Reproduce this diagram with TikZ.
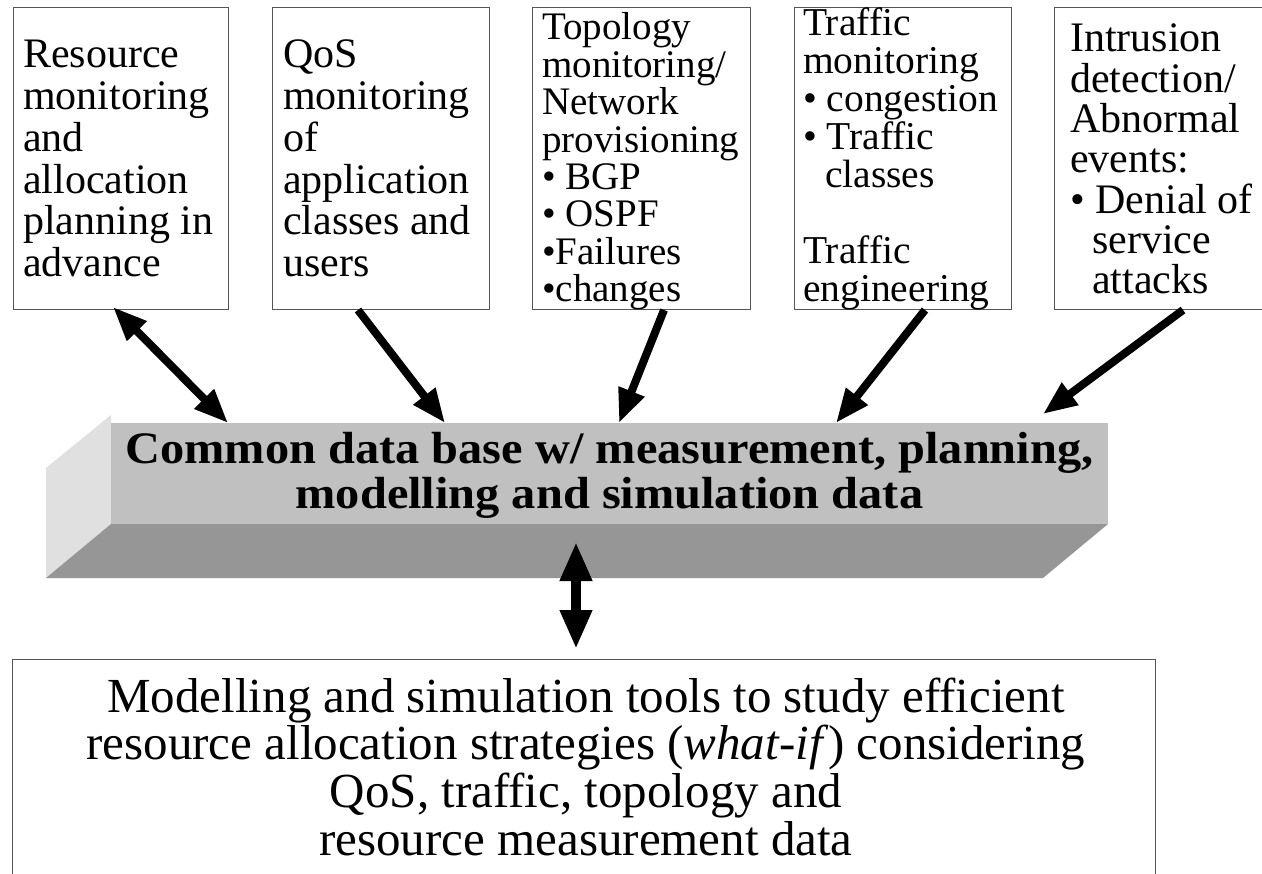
\documentclass[tikz,border=0pt]{standalone}
\usepackage{fontspec}
\setmainfont{Liberation Serif}
\usetikzlibrary{arrows.meta}
\lineskiplimit=-100pt
\definecolor{barfront}{HTML}{C0C0C0}
\definecolor{barbottom}{HTML}{969696}
\definecolor{barleft}{HTML}{E0E0E0}
\definecolor{boxline}{HTML}{555555}
\tikzset{
  topbox/.style={draw=boxline, line width=1.2pt, fill=none, anchor=north west, inner sep=0pt, minimum height=302pt},
  boxtext/.style={anchor=base west, inner sep=0pt},
  arr/.style={line width=8pt, -{Triangle[length=34pt,width=26pt]}},
  dblarr/.style={line width=8pt, {Triangle[length=34pt,width=26pt]}-{Triangle[length=34pt,width=26pt]}},
  vdblarr/.style={line width=10pt, {Triangle[length=39pt,width=30pt]}-{Triangle[length=39pt,width=30pt]}},
}
\begin{document}
\begin{tikzpicture}[x=1pt,y=-1pt]
\useasboundingbox (0,0) rectangle (1262,874);
\fill[white] (0,0) rectangle (1262,874);

% top boxes
\node[topbox, minimum width=215pt] (b1) at (13,7) {};
\node[topbox, minimum width=217pt] (b2) at (272,7) {};
\node[topbox, minimum width=218pt] (b3) at (532,7) {};
\node[topbox, minimum width=217pt] (b4) at (794,7) {};
\node[topbox, minimum width=225pt] (b5) at (1054,7) {};

\node[boxtext, font=\fontsize{42}{41.7}\selectfont] (t1) at (23,68)
  {\parbox[t]{210pt}{\raggedright Resource\\monitoring\\and\\allocation\\planning in\\advance}};
\node[boxtext, font=\fontsize{42}{41.7}\selectfont] (t2) at (283,68)
  {\parbox[t]{210pt}{\raggedright QoS\\monitoring\\of\\application\\classes and\\users}};
\node[boxtext, font=\fontsize{39}{37.4}\selectfont] (t3) at (542,40)
  {\parbox[t]{210pt}{\raggedright Topology\\monitoring/\\Network\\provisioning\\\textbullet\ BGP\\\textbullet\ OSPF\\\textbullet Failures\\\textbullet changes}};
\node[boxtext, font=\fontsize{39.5}{37.9}\selectfont] (t4) at (803,36)
  {\parbox[t]{210pt}{\raggedright Traffic\\monitoring\\\textbullet\ congestion\\\textbullet\ Traffic\\\hspace*{22pt}classes\\\mbox{}\\Traffic\\engineering}};
\node[boxtext, font=\fontsize{42}{40.3}\selectfont] (t5) at (1070,52)
  {\parbox[t]{210pt}{\raggedright Intrusion\\detection/\\Abnormal\\events:\\\textbullet\ Denial of\\\hspace*{22pt}service\\\hspace*{22pt}attacks}};

% 3D bar
\fill[barleft] (111,415) -- (46,468) -- (46,578) -- (111,524) -- cycle;
\fill[barbottom] (111,524) -- (1108,524) -- (1043,578) -- (46,578) -- cycle;
\node[fill=barfront, anchor=north west, inner sep=0pt, minimum width=997pt, minimum height=101pt] (bar) at (111,423) {};
\node[anchor=base, inner sep=0pt, font=\bfseries\fontsize{45}{45}\selectfont] (bartext) at (609.5,464)
  {\scalebox{1.075}[1]{\parbox[t]{1000pt}{\centering Common data base w/ measurement, planning,\\modelling and simulation data}}};

% bottom box
\node[draw=boxline, line width=1.2pt, anchor=north west, inner sep=0pt, minimum width=1143pt, minimum height=240pt] (bot) at (12,659) {};
\node[anchor=base, inner sep=0pt, font=\fontsize{49}{47.7}\selectfont] (bottext) at (586,712)
  {\parbox[t]{1200pt}{\centering Modelling and simulation tools to study efficient\\resource allocation strategies (\textit{what-if}) considering\\QoS, traffic, topology and\\resource measurement data}};

% connector end points
\coordinate (a1s) at (113,307);
\coordinate (a1e) at (228,423);
\coordinate (a2s) at (358,310);
\coordinate (a2e) at (445,423);
\coordinate (a3s) at (664,310);
\coordinate (a3e) at (619,423);
\coordinate (a4s) at (925,310);
\coordinate (a4e) at (836,423);
\coordinate (a5s) at (1183,310);
\coordinate (a5e) at (1043,414);
\coordinate (a6s) at (576,542);
\coordinate (a6e) at (576,649);

\draw[dblarr] (a1s) -- (a1e);
\draw[arr] (a2s) -- (a2e);
\draw[arr] (a3s) -- (a3e);
\draw[arr] (a4s) -- (a4e);
\draw[arr] (a5s) -- (a5e);
\draw[vdblarr] (a6s) -- (a6e);
\end{tikzpicture}
\end{document}
